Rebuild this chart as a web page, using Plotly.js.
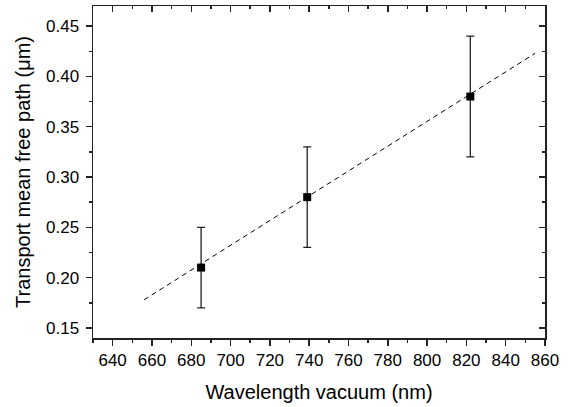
<!DOCTYPE html>
<html><head><meta charset="utf-8">
<script src="https://cdn.plot.ly/plotly-3.0.1.min.js"></script>
<style>html,body{margin:0;padding:0;background:#fff}#c{width:574px;height:407px}</style>
</head><body><div id="c"></div>
<script>
const wavelength = [685, 739, 822];
const mfp = [0.21, 0.28, 0.38];
const errPlus = [0.04, 0.05, 0.06];
const errMinus = [0.04, 0.05, 0.06];
const fitX = [656, 855];
const fitY = [0.178, 0.423];
const xTicks = [640, 660, 680, 700, 720, 740, 760, 780, 800, 820, 840, 860];
const yTicks = [0.15, 0.20, 0.25, 0.30, 0.35, 0.40, 0.45];

const font = {family: 'Liberation Sans, Arial, sans-serif', color: '#000'};
const axisCol = '#222';
const traces = [
  {x: fitX, y: fitY, mode: 'lines', line: {color: '#000', width: 1, dash: '5px,4px'}, hoverinfo: 'skip'},
  {x: wavelength, y: mfp, mode: 'markers', marker: {symbol: 'square', size: 8, color: '#000'},
   error_y: {type: 'data', symmetric: false, array: errPlus, arrayminus: errMinus, color: '#222', thickness: 1.3, width: 4}},
  {x: [null], y: [null], xaxis: 'x2', yaxis: 'y2', showlegend: false}
];
const common = {showgrid: false, zeroline: false, showline: true, linecolor: axisCol, linewidth: 1.5,
  tickcolor: axisCol, tickwidth: 1.5};
const layout = {
  width: 574, height: 407, showlegend: false,
  margin: {l: 93, r: 29, t: 6, b: 69},
  paper_bgcolor: '#fff', plot_bgcolor: '#fff',
  font: font,
  xaxis: Object.assign({}, common, {range: [630, 860], tickvals: xTicks, ticktext: xTicks.map(String),
    ticks: 'outside', ticklen: 6, tickfont: {size: 17, family: font.family, color: '#000'},
    minor: {dtick: 10, tick0: 630, ticks: 'outside', ticklen: 3, tickcolor: axisCol, tickwidth: 1.5},
    title: {text: 'Wavelength vacuum (nm)', font: {size: 20, family: font.family, color: '#000'}, standoff: 16}}),
  yaxis: Object.assign({}, common, {range: [0.14, 0.47], tickvals: yTicks, ticktext: yTicks.map(v => v.toFixed(2)),
    ticks: 'outside', ticklen: 6, ticklabelstandoff: 3, tickfont: {size: 17, family: font.family, color: '#000'},
    minor: {dtick: 0.025, tick0: 0.125, ticks: 'outside', ticklen: 3, tickcolor: axisCol, tickwidth: 1.5},
    title: {text: 'Transport mean free path (\u03bcm)', font: {size: 20, family: font.family, color: '#000'}, standoff: 10}}),
  xaxis2: Object.assign({}, common, {overlaying: 'x', side: 'top', range: [630, 860], tickvals: xTicks,
    showticklabels: false, ticks: 'inside', ticklen: 6,
    minor: {dtick: 10, tick0: 630, ticks: 'inside', ticklen: 3, tickcolor: axisCol, tickwidth: 1.5}}),
  yaxis2: Object.assign({}, common, {overlaying: 'y', side: 'right', range: [0.14, 0.47], tickvals: yTicks,
    showticklabels: false, ticks: 'inside', ticklen: 6,
    minor: {dtick: 0.025, tick0: 0.125, ticks: 'inside', ticklen: 3, tickcolor: axisCol, tickwidth: 1.5}})
};
Plotly.newPlot('c', traces, layout, {staticPlot: true, displayModeBar: false});
</script></body></html>
